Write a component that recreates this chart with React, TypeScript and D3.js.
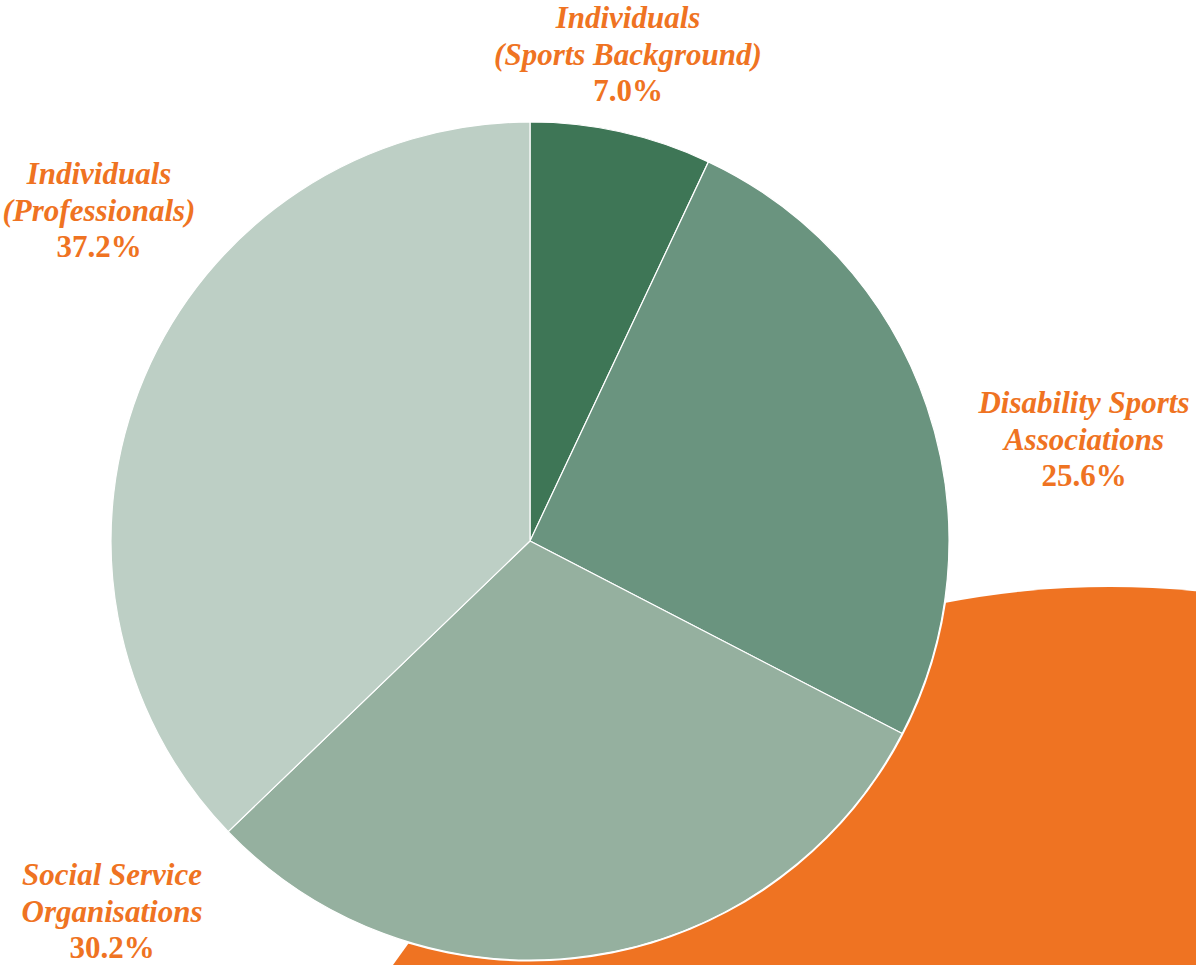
import React, { useEffect, useRef } from 'react'
import * as d3 from 'd3'

// slice data, clockwise from 12 o'clock
const categories = [
  ['Individuals', '(Sports Background)'],
  ['Disability Sports', 'Associations'],
  ['Social Service', 'Organisations'],
  ['Individuals', '(Professionals)'],
]
const shares = [7.0, 25.6, 30.2, 37.2]
const sliceColors = ['#3e7656', '#6a947f', '#95b09f', '#bdcfc5']

// where each label block sits (center x, first baseline y)
const labelAt: [number, number][] = [
  [628, 28],
  [1084, 413],
  [112, 885],
  [99, 184],
]

const W = 1196, H = 965
const cx = 530, cy = 541, R = 419
const ORANGE = '#ef7322'

function App() {
  const ref = useRef<SVGSVGElement>(null)

  useEffect(() => {
    document.body.style.margin = '0'
    const svg = d3.select(ref.current)
    svg.selectAll('*').remove()

    // big orange backdrop circle, lower right
    svg.append('circle')
      .attr('cx', 1110).attr('cy', 1456).attr('r', 869)
      .attr('fill', ORANGE)

    const data = shares.map((v, i) => ({ v, i }))
    const pie = d3.pie<{ v: number, i: number }>().value(d => d.v).sort(null)
    const arc = d3.arc<d3.PieArcDatum<{ v: number, i: number }>>().innerRadius(0).outerRadius(R)

    const g = svg.append('g').attr('transform', `translate(${cx},${cy})`)
    g.append('circle').attr('r', R + 1.5).attr('fill', '#fff')
    g.selectAll('path')
      .data(pie(data))
      .enter()
      .append('path')
      .attr('d', arc)
      .attr('fill', d => sliceColors[d.data.i])
      .attr('stroke', '#fff')
      .attr('stroke-width', 1.2)

    const labels = svg.append('g')
    data.forEach((d, i) => {
      const [x, y] = labelAt[i]
      const t = labels.append('text')
        .attr('text-anchor', 'middle')
        .attr('fill', ORANGE)
        .attr('font-family', '"Liberation Serif", serif')
        .attr('font-weight', 'bold')
        .attr('font-size', 31)
      categories[i].forEach((line, k) => {
        t.append('tspan').attr('x', x).attr('y', y + k * 36.5)
          .attr('font-style', 'italic').text(line)
      })
      t.append('tspan').attr('x', x).attr('y', y + 2 * 36.5)
        .text(d3.format('.1f')(d.v) + '%')
    })
  }, [])

  return <svg ref={ref} width={W} height={H} style={{ display: 'block', background: '#fff' }} />
}

export default App
